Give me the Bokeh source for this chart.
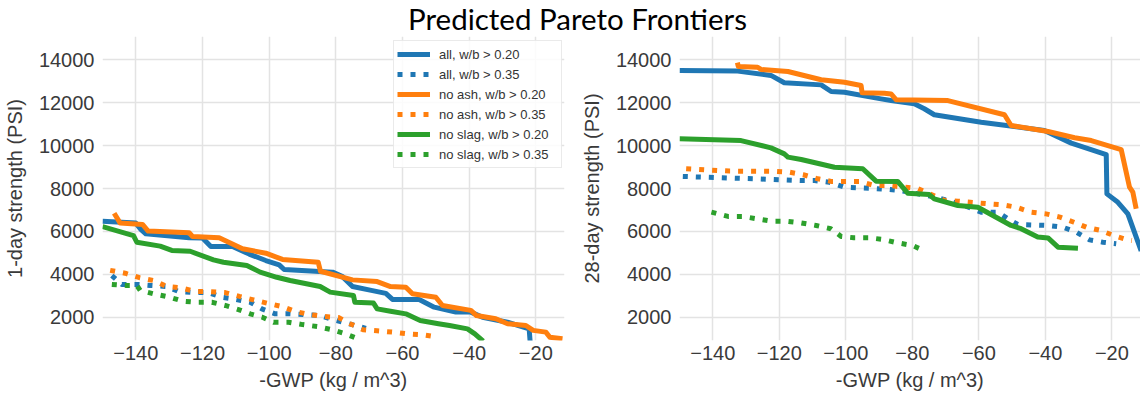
from bokeh.plotting import figure
from bokeh.models import Label, FixedTicker, Legend, LegendItem, Range1d
from bokeh.layouts import column, row
from bokeh.embed import file_html
from bokeh.resources import INLINE

# ---------------- data ----------------
X_TICKS = [-140, -120, -100, -80, -60, -40, -20]
Y_TICKS = [2000, 4000, 6000, 8000, 10000, 12000, 14000]
LABELS = ["all, w/b > 0.20", "all, w/b > 0.35", "no ash, w/b > 0.20",
          "no ash, w/b > 0.35", "no slag, w/b > 0.20", "no slag, w/b > 0.35"]

# 1-day strength
d1_all_20_x = [-150, -140, -138.5, -137, -124, -120, -117.5, -111, -106, -101, -97, -95.5, -81, -78, -75, -69, -65, -63, -55, -50.5, -44, -39.5, -36, -28.5, -22, -21.7]
d1_all_20_y = [6480, 6390, 6100, 5890, 5710, 5700, 5300, 5300, 4950, 4650, 4450, 4230, 4110, 3900, 3440, 3250, 3120, 2840, 2840, 2480, 2250, 2250, 2010, 1780, 1470, 850]
d1_all_35_x = [-147.2, -144.2, -139.7, -135.7, -130.7, -127.2, -122.7, -118.2, -114.2, -110.2, -105.7, -102.2, -98.2, -93.7, -89.2, -84.7, -80.7, -76.2, -72.2, -71]
d1_all_35_y = [3950, 3540, 3540, 3490, 3440, 3210, 3160, 3160, 2940, 2850, 2710, 2400, 2170, 2170, 2130, 2090, 1890, 1710, 1550, 1490]
d1_ash_20_x = [-146.5, -144.7, -138, -136.3, -124, -123, -115, -108, -101, -96, -85.3, -84.6, -75, -67.6, -63.6, -59, -57, -50, -48, -39.5, -37.8, -32, -28.5, -23, -20.8, -17, -15.8, -12]
d1_ash_20_y = [6850, 6390, 6330, 6020, 5940, 5770, 5710, 5200, 4990, 4700, 4570, 4150, 3750, 3670, 3440, 3410, 3100, 2940, 2560, 2330, 2090, 1940, 1710, 1630, 1400, 1320, 1080, 1010]
d1_ash_35_x = [-147.7, -143.2, -138.9, -134.7, -130.7, -126.5, -122.2, -118.7, -113.2, -108.9, -104.7, -100.7, -96.2, -92.2, -87.9, -83.7, -79.2, -75.2, -71.8, -67.6, -63, -58.6, -54.2, -49.2]
d1_ash_35_y = [4190, 4060, 3850, 3720, 3440, 3380, 3210, 3210, 3160, 2980, 2820, 2670, 2510, 2280, 2140, 2050, 2000, 1670, 1430, 1380, 1320, 1240, 1200, 1080]
d1_slag_20_x = [-150, -140.7, -139.7, -132.7, -129.2, -123.7, -116.7, -113.7, -106.7, -102.7, -97.7, -93.7, -84.7, -81.7, -74.7, -74.3, -68.7, -67.6, -63.6, -59, -54.7, -49.2, -45.9, -40.5, -38.3, -35.8]
d1_slag_20_y = [6230, 5810, 5500, 5320, 5120, 5080, 4680, 4570, 4420, 4110, 3870, 3720, 3440, 3180, 3020, 2710, 2670, 2400, 2290, 2170, 1860, 1710, 1630, 1470, 1240, 900]
d1_slag_35_x = [-147.2, -142.9, -139.7, -138.7, -134.4, -130, -125.9, -121.7, -117.2, -113.2, -109.2, -105.7, -102.2, -98.7, -94.2, -90, -85.6, -81.1, -77.1, -73.2]
d1_slag_35_y = [3540, 3490, 3490, 3260, 3090, 2950, 2760, 2710, 2710, 2560, 2370, 2170, 2020, 1780, 1780, 1670, 1580, 1430, 1240, 1000]

# 28-day strength
d28_all_20_x = [-150, -132.5, -122.5, -118.5, -107.4, -104.4, -100.4, -89.4, -86.4, -79.4, -76.4, -73.4, -59.3, -49.3, -40.3, -32.2, -21.7, -21.5, -18.2, -15.2, -11.2]
d28_all_20_y = [13490, 13460, 13260, 12920, 12820, 12510, 12480, 12170, 12090, 11940, 11710, 11430, 11080, 10880, 10700, 10110, 9580, 7750, 7360, 6820, 5100]
d28_all_35_x = [-149, -127, -113.4, -109.4, -104.9, -100.4, -92.4, -87.4, -83.8, -73, -65, -59.3, -54.3, -51.3, -48.3, -39.2, -34.8, -30.7, -26.7, -22.7, -18.7]
d28_all_35_y = [8560, 8450, 8370, 8370, 8290, 8060, 8010, 7960, 7910, 7600, 7250, 6900, 6900, 6590, 6330, 6280, 6200, 5970, 5610, 5500, 5430]
d28_ash_20_x = [-132.6, -132.3, -126.5, -125.5, -117.4, -107.4, -100.4, -95.4, -95.1, -88.4, -86.4, -84.9, -69.3, -52.3, -50.3, -39.2, -31.2, -26.2, -17.2, -14.7, -13.7, -12.7]
d28_ash_20_y = [13850, 13670, 13640, 13540, 13440, 13060, 12940, 12790, 12450, 12430, 12400, 12130, 12090, 11430, 10930, 10650, 10360, 10230, 9810, 8060, 7830, 7060]
d28_ash_35_x = [-148, -135, -121.5, -117, -112.8, -108.4, -104.4, -95.9, -91.4, -86.9, -78.3, -70.3, -66.3, -57.3, -52.8, -48.8, -44.3, -39.8, -35.6, -31.4, -27.7, -23.4, -19.4, -15.2, -14]
d28_ash_35_y = [8920, 8810, 8800, 8760, 8640, 8450, 8330, 8330, 8140, 8140, 7990, 7440, 7410, 7290, 7240, 7130, 6900, 6820, 6670, 6430, 6200, 6050, 5810, 5610, 5580]
d28_slag_20_x = [-150, -131.5, -122.5, -118.5, -117.4, -113.4, -103.4, -94.9, -90.9, -84.4, -81.4, -74.9, -73.4, -66.3, -60.3, -50.3, -47.3, -42.3, -39.2, -36.2, -30.2]
d28_slag_20_y = [10310, 10230, 9890, 9610, 9460, 9350, 8990, 8920, 8340, 8330, 7780, 7720, 7520, 7210, 7130, 6280, 6130, 5740, 5700, 5270, 5220]
d28_slag_35_x = [-140.4, -135.4, -131, -126.7, -122.3, -117.9, -113.4, -108.9, -104.5, -101.4, -97.6, -93.2, -88.8, -84.4, -80, -76.1]
d28_slag_35_y = [6900, 6700, 6700, 6590, 6480, 6480, 6400, 6280, 6130, 5770, 5710, 5710, 5630, 5470, 5350, 5080]

# ---------------- style ----------------
BLUE, ORANGE, GREEN = "#1f77b4", "#ff7f0e", "#2ca02c"
TXT = "#3a3a3a"
FONT = "Liberation Sans"
LW = 5
DOT = "5 8"


def make_fig(width, border_left, border_right, ylabel):
    p = figure(width=width, height=360, title=None,
               x_range=Range1d(-150, -11.4), y_range=Range1d(930, 15070),
               min_border_left=border_left, min_border_right=border_right,
               min_border_top=0, min_border_bottom=56,
               toolbar_location=None, output_backend="svg")
    p.outline_line_color = None
    p.background_fill_color = "white"
    p.xaxis.ticker = FixedTicker(ticks=X_TICKS)
    p.yaxis.ticker = FixedTicker(ticks=Y_TICKS)
    p.xaxis.major_label_overrides = {t: "\u2212" + str(abs(t)) for t in X_TICKS}
    p.xaxis.axis_label = "-GWP (kg / m^3)"
    p.yaxis.axis_label = ylabel
    for ax in p.axis:
        ax.axis_line_color = None
        ax.major_tick_line_color = None
        ax.minor_tick_line_color = None
        ax.major_tick_out = 0
        ax.major_tick_in = 0
        ax.minor_tick_out = 0
        ax.minor_tick_in = 0
        ax.major_label_text_font = FONT
        ax.major_label_text_font_size = "20px"
        ax.major_label_text_color = TXT
        ax.axis_label_text_font = FONT
        ax.axis_label_text_font_size = "20px"
        ax.axis_label_text_font_style = "normal"
        ax.axis_label_text_color = TXT
    p.xaxis.major_label_standoff = 5
    p.xaxis.axis_label_standoff = 6
    p.yaxis.major_label_standoff = 8
    p.yaxis.axis_label_standoff = 10
    for g in (p.xgrid, p.ygrid):
        g.grid_line_color = "#e3e3e3"
        g.grid_line_width = 1.5
    return p


def draw(p, series):
    rs = []
    for (xs, ys, color, dash) in series:
        rs.append(p.line(xs, ys, line_color=color, line_width=LW,
                         line_dash=dash, line_cap="butt", line_join="round"))
    return rs


p1 = make_fig(570, 102, 6, "1-day strength (PSI)")
r1 = draw(p1, [
    (d1_all_20_x, d1_all_20_y, BLUE, "solid"),
    (d1_all_35_x, d1_all_35_y, BLUE, DOT),
    (d1_ash_20_x, d1_ash_20_y, ORANGE, "solid"),
    (d1_ash_35_x, d1_ash_35_y, ORANGE, DOT),
    (d1_slag_20_x, d1_slag_20_y, GREEN, "solid"),
    (d1_slag_35_x, d1_slag_35_y, GREEN, DOT),
])

p2 = make_fig(570, 109, 0, "28-day strength (PSI)")
draw(p2, [
    (d28_all_20_x, d28_all_20_y, BLUE, "solid"),
    (d28_all_35_x, d28_all_35_y, BLUE, DOT),
    (d28_ash_20_x, d28_ash_20_y, ORANGE, "solid"),
    (d28_ash_35_x, d28_ash_35_y, ORANGE, DOT),
    (d28_slag_20_x, d28_slag_20_y, GREEN, "solid"),
    (d28_slag_35_x, d28_slag_35_y, GREEN, DOT),
])

legend = Legend(items=[LegendItem(label=l, renderers=[r]) for l, r in zip(LABELS, r1)],
                location=(291, 172), margin=0, padding=3, spacing=0,
                glyph_width=33, glyph_height=20, label_height=20, label_standoff=9,
                label_width=119,
                label_text_font=FONT, label_text_font_size="13px", label_text_color="#333333",
                border_line_color="#d5d5d5", border_line_width=1,
                background_fill_color="white", background_fill_alpha=0.85)
p1.add_layout(legend)

# title strip
pt = figure(width=1140, height=36, title=None, x_range=Range1d(0, 1140), y_range=Range1d(0, 36),
            min_border=0, toolbar_location=None, output_backend="svg",
            x_axis_type=None, y_axis_type=None)
pt.outline_line_color = None
pt.xgrid.visible = False
pt.ygrid.visible = False
pt.add_layout(Label(x=577, y=18, text="Predicted Pareto Frontiers", text_align="center",
                    text_baseline="middle", text_font="Lato", text_font_size="29.5px",
                    text_color="black"))

layout = column(pt, row(p1, p2))
open("out.html", "w").write(file_html(layout, INLINE))
